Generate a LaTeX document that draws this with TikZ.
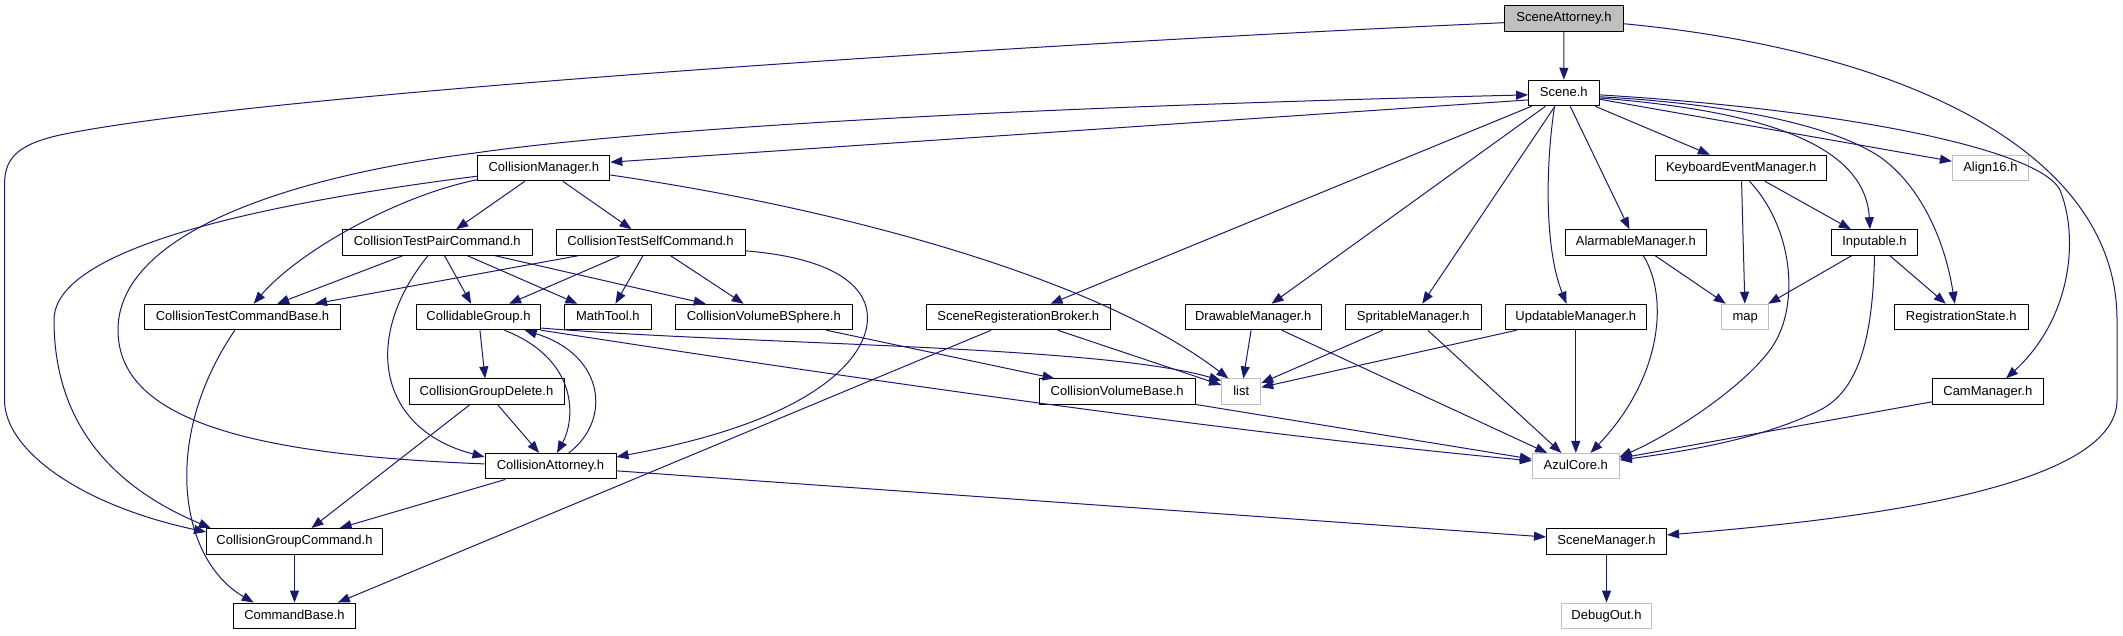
\documentclass[tikz,border=0pt]{standalone}
\usepackage{fontspec}
\setmainfont{Liberation Sans}
\usetikzlibrary{arrows.meta}
\definecolor{edgeblue}{HTML}{191970}
\definecolor{extgray}{HTML}{BFBFBF}

\begin{document}
\begin{tikzpicture}[x=1pt,y=-1pt,
  hdr/.style={draw=black,line width=1pt,fill=white,minimum height=25.5pt,inner sep=0pt,
    text height=9.4pt,text depth=2.6pt,font=\fontsize{13}{15}\selectfont},
  ext/.style={hdr,draw=extgray},
  cur/.style={hdr,fill=extgray},
  dep/.style={draw=edgeblue,line width=1pt,-{Triangle[length=12pt,width=9pt]}}]
\useasboundingbox (0,0) rectangle (2123,635);

\node[cur,minimum width=119pt] (scatt) at (1564,18.5) {SceneAttorney.h};
\node[hdr,minimum width=70.5pt] (scene) at (1563.8,93) {Scene.h};

\node[hdr,minimum width=132pt] (colmgr) at (543.8,168) {CollisionManager.h};
\node[hdr,minimum width=171pt] (kbdmgr) at (1741.2,168) {KeyboardEventManager.h};
\node[ext,minimum width=76pt] (align) at (1990.4,168) {Align16.h};

\node[hdr,minimum width=190pt] (pairc) at (437.2,242.5) {CollisionTestPairCommand.h};
\node[hdr,minimum width=189pt] (selfc) at (650.5,242.5) {CollisionTestSelfCommand.h};
\node[hdr,minimum width=141.5pt] (alarm) at (1635.8,242.5) {AlarmableManager.h};
\node[hdr,minimum width=85.5pt] (input) at (1874.5,242.5) {Inputable.h};

\node[hdr,minimum width=196.5pt] (tcbase) at (242.5,317) {CollisionTestCommandBase.h};
\node[hdr,minimum width=124.4pt] (cgroup) at (478.5,317) {CollidableGroup.h};
\node[hdr,minimum width=87pt] (mtool) at (607.8,317) {MathTool.h};
\node[hdr,minimum width=177pt] (bsphere) at (763.8,317) {CollisionVolumeBSphere.h};
\node[hdr,minimum width=184pt] (broker) at (1018.3,317) {SceneRegisterationBroker.h};
\node[hdr,minimum width=136.4pt] (drawmgr) at (1253.2,317) {DrawableManager.h};
\node[hdr,minimum width=135.4pt] (spritemgr) at (1413.3,317) {SpritableManager.h};
\node[hdr,minimum width=141.6pt] (updmgr) at (1575.8,317) {UpdatableManager.h};
\node[ext,minimum width=47pt] (map) at (1745.2,317) {map};
\node[hdr,minimum width=133.8pt] (regstate) at (1961.2,317) {RegistrationState.h};

\node[hdr,minimum width=155pt] (cgdel) at (486.5,391.7) {CollisionGroupDelete.h};
\node[hdr,minimum width=156.4pt] (vbase) at (1117.2,391.7) {CollisionVolumeBase.h};
\node[ext,minimum width=39pt] (list) at (1241.2,391.7) {list};
\node[hdr,minimum width=111pt] (cammgr) at (1987.8,391.7) {CamManager.h};

\node[hdr,minimum width=131pt] (colatt) at (550.5,466.2) {CollisionAttorney.h};
\node[ext,minimum width=87pt] (azul) at (1575.8,466.2) {AzulCore.h};

\node[hdr,minimum width=176pt] (cgcmd) at (294.5,541.3) {CollisionGroupCommand.h};
\node[hdr,minimum width=120pt] (scnmgr) at (1606.5,541.3) {SceneManager.h};

\node[hdr,minimum width=122.8pt] (cmdbase) at (294.5,615.8) {CommandBase.h};
\node[ext,minimum width=90pt] (debug) at (1606.5,615.8) {DebugOut.h};

\foreach \a/\b in {scatt/scene, scene/kbdmgr, scene/align, scene/alarm, scene/broker,
    scene/drawmgr, scene/spritemgr, colmgr/pairc, colmgr/selfc, pairc/tcbase,
    pairc/cgroup, pairc/mtool, pairc/bsphere, selfc/tcbase, selfc/cgroup, selfc/mtool,
    selfc/bsphere, kbdmgr/map, kbdmgr/input, alarm/map, input/map, input/regstate,
    cgroup/cgdel, bsphere/vbase, broker/list, drawmgr/list, drawmgr/azul,
    spritemgr/list, spritemgr/azul, updmgr/list, updmgr/azul, cgdel/colatt,
    cgdel/cgcmd, vbase/azul, cammgr/azul, colatt/cgcmd, colatt/scnmgr,
    cgcmd/cmdbase, scnmgr/debug}
  \draw[dep] (\a) -- (\b);

\draw[dep] (scatt.184) .. controls (1000,45) and (250,95) .. (60,135)
  .. controls (15,145) and (4.5,160) .. (4.5,185) -- (4.5,400)
  .. controls (4.5,450) and (80,505) .. (cgcmd.174);
\draw[dep] (scatt.355) .. controls (1900,50) and (2117,150) .. (2117,320) -- (2117,400)
  .. controls (2117,490) and (1850,520) .. (scnmgr.6);
\draw[dep] (scene.191) -- (colmgr.5);
\draw[dep] (colatt.178) .. controls (250,455) and (118,420) .. (118,330)
  .. controls (118,230) and (300,175) .. (475,153)
  .. controls (600,135) and (900,110) .. (scene.183);
\draw[dep] (colmgr.190) .. controls (400,195) and (300,250) .. (tcbase.50);
\draw[dep] (colmgr.187) .. controls (250,205) and (54,250) .. (54,320)
  .. controls (54,430) and (120,490) .. (cgcmd.171);
\draw[dep] (colmgr.354) .. controls (850,210) and (1100,280) .. (list.134);
\draw[dep] (pairc.235) .. controls (360,340) and (380,430) .. (colatt.172);
\draw[dep] (selfc.355) .. controls (880,262) and (883,320) .. (850,360)
  .. controls (800,420) and (680,445) .. (colatt.8);
\draw[dep] (tcbase.240) .. controls (160,440) and (180,560) .. (cmdbase.162);
\draw[dep] (cgroup.333) .. controls (580,360) and (575,420) .. (colatt.64);
\draw[dep] (colatt.36) .. controls (612,420) and (605,355) .. (cgroup.344);
\draw[dep] (cgroup.350) .. controls (750,345) and (1100,345) .. (list.151);
\draw[dep] (cgroup.south east) .. controls (800,370) and (1200,430) .. (azul.173);
\draw[dep] (broker.206) -- (cmdbase.17);
\draw[dep] (scene.235) .. controls (1545,170) and (1545,250) .. (updmgr.125);
\draw[dep] (scene.352) .. controls (1750,110) and (1865,140) .. (input.109);
\draw[dep] (scene.354) .. controls (1750,105) and (1840,130) .. (1880,157)
  .. controls (1920,185) and (1945,240) .. (regstate.116);
\draw[dep] (scene.357) .. controls (1850,110) and (2040,150) .. (2060,190)
  .. controls (2080,240) and (2070,320) .. (cammgr.36);
\draw[dep] (alarm.300) .. controls (1670,300) and (1660,380) .. (azul.42);
\draw[dep] (kbdmgr.302) .. controls (1795,230) and (1800,310) .. (1770,350)
  .. controls (1740,390) and (1670,435) .. (azul.12);
\draw[dep] (input.south) .. controls (1873,320) and (1865,387.5) .. (1820,410)
  .. controls (1760,440) and (1680,452) .. (azul.8);
\end{tikzpicture}
\end{document}
